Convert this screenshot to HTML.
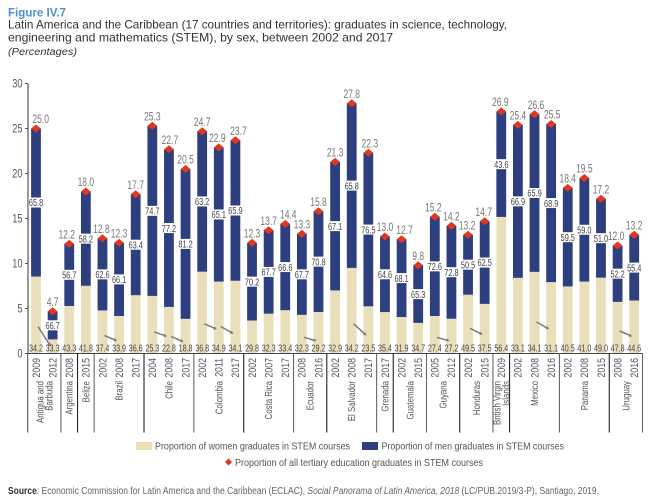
<!DOCTYPE html>
<html lang="en">
<head>
<meta charset="utf-8">
<title>Figure IV.7</title>
<style>
html,body{margin:0;padding:0;background:#fff;width:661px;height:502px;overflow:hidden}
svg{display:block;font-family:"Liberation Sans",sans-serif}
</style>
</head>
<body>
<svg id="chart" width="661" height="502" viewBox="0 0 661 502" xmlns="http://www.w3.org/2000/svg">
  <text x="8" y="16.5" font-size="11.5" font-weight="bold" fill="#4a90d0" textLength="58" lengthAdjust="spacingAndGlyphs">Figure IV.7</text>
  <text x="8" y="28.5" font-size="12" fill="#333" textLength="499" lengthAdjust="spacingAndGlyphs">Latin America and the Caribbean (17 countries and territories): graduates in science, technology,</text>
  <text x="8" y="41.5" font-size="12" fill="#333" textLength="385" lengthAdjust="spacingAndGlyphs">engineering and mathematics (STEM), by sex, between 2002 and 2017</text>
  <text x="8" y="55" font-size="10" font-style="italic" fill="#333" textLength="69" lengthAdjust="spacingAndGlyphs">(Percentages)</text>
  <g id="plot"></g>
  <g>
    <rect x="136" y="442" width="16" height="8" fill="#e9e0bb"/>
    <text x="155" y="449.5" font-size="10.5" fill="#555" textLength="195" lengthAdjust="spacingAndGlyphs">Proportion of women graduates in STEM courses</text>
    <rect x="362" y="442" width="16" height="8" fill="#2e3f80"/>
    <text x="381.5" y="449.5" font-size="10.5" fill="#555" textLength="182.5" lengthAdjust="spacingAndGlyphs">Proportion of men graduates in STEM courses</text>
    <polygon points="228.5,458.5 232,462 228.5,465.5 225,462" fill="#e2371f"/>
    <text x="235" y="466" font-size="10.5" fill="#555" textLength="248" lengthAdjust="spacingAndGlyphs">Proportion of all tertiary education graduates in STEM courses</text>
  </g>
  <text x="8" y="494" font-size="10" fill="#666" textLength="591" lengthAdjust="spacingAndGlyphs"><tspan font-weight="bold" fill="#333">Source</tspan>: Economic Commission for Latin America and the Caribbean (ECLAC), <tspan font-style="italic">Social Panorama of Latin America, 2018</tspan> (LC/PUB.2019/3-P), Santiago, 2019.</text>
</svg>
<script>
const groupNames = [["Antigua and","Barbuda"],["Argentina"],["Belize"],["Brazil"],["Chile"],["Colombia"],["Costa Rica"],["Ecuador"],["El Salvador"],["Grenada"],["Guatemala"],["Guyana"],["Honduras"],["British Virgin","Islands"],["Mexico"],["Panama"],["Uruguay"]];
const groupSizes = [2,1,1,3,3,3,3,2,3,1,2,2,2,1,3,3,2];
const years = [2009,2012,2008,2015,2002,2008,2017,2004,2008,2017,2002,2011,2017,2002,2007,2017,2008,2016,2002,2008,2017,2017,2002,2015,2005,2012,2002,2015,2009,2002,2008,2016,2002,2008,2015,2008,2016];
const totalShare = [25.0,4.7,12.2,18.0,12.8,12.3,17.7,25.3,22.7,20.5,24.7,22.9,23.7,12.3,13.7,14.4,13.3,15.8,21.3,27.8,22.3,13.0,12.7,9.8,15.2,14.2,13.2,14.7,26.9,25.4,26.6,25.5,18.4,19.5,17.2,12.0,13.2];
const womenShare = [34.2,33.3,43.3,41.8,37.4,33.9,36.6,25.3,22.8,18.8,36.8,34.9,34.1,29.8,32.3,33.4,32.3,29.2,32.9,34.2,23.5,35.4,31.9,34.7,27.4,27.2,49.5,37.5,56.4,33.1,34.1,31.1,40.5,41.0,49.0,47.8,44.6];
const menShare = [65.8,66.7,56.7,58.2,62.6,66.1,63.4,74.7,77.2,81.2,63.2,65.1,65.9,70.2,67.7,66.6,67.7,70.8,67.1,65.8,76.5,64.6,68.1,65.3,72.6,72.8,50.5,62.5,43.6,66.9,65.9,68.9,59.5,59.0,51.0,52.2,55.4];
const yTicks = [0,5,10,15,20,25,30];
const trendFromBar = [0,4,7,8,10,11,16,19,24,26,30,35];
const trendStart = [3,2,2.4,1.9,3.3,3,1.8,3.3,1.8,2.8,3.5,2.5];
const trendEnd = [0.8,1.4,1.9,1.3,2.7,2.2,1.4,2,1.4,2.1,2.7,1.9];

const NS = "http://www.w3.org/2000/svg";
const plot = document.getElementById("plot");
const x = i => 36 + i * 16.617;
const y = v => 353.5 - v * 9;
const barW = 9.8;
// manual label placement shifts, by bar index, to avoid collisions with neighbours
const totalLabelShift = {0:4.7,2:-2.5,4:-1,8:1,11:-1.5,12:3,15:3,20:1.5,22:3,24:-1.5,26:-1,27:-1,28:-1,30:1.5,31:1,35:-1.5};

function mk(tag, attrs, parent) {
  const el = document.createElementNS(NS, tag);
  for (const k in attrs) el.setAttribute(k, attrs[k]);
  (parent || plot).appendChild(el);
  return el;
}
function label(str, px, py, size, sx, fill, anchor) {
  const t = mk("text", {transform: "translate(" + px + "," + py + ") scale(" + sx + ",1)", "font-size": size, fill: fill, "text-anchor": anchor || "middle"});
  t.textContent = str;
  return t;
}

// y axis
const yAxis = mk("line", {x1: 28, x2: 28, y1: y(30), y2: y(0), stroke: "#555", "stroke-width": 1.2});


yTicks.forEach(v => {
  const tick = mk("line", {x1: 25, x2: 28, y1: y(v), y2: y(v), stroke: "#555", "stroke-width": 1});
  
  
  const tl = label(String(v), 22.5, y(v) + 4, 11.5, 0.8, "#555", "end");
  
  
});

// bars
totalShare.forEach((total, i) => {
  const womenH = total * womenShare[i] / 100;
  const women = mk("rect", {x: x(i) - barW / 2, width: barW, y: y(womenH), height: y(0) - y(womenH), fill: "#e9e0bb"});
  
  
  const men = mk("rect", {x: x(i) - barW / 2, width: barW, y: y(total), height: y(womenH) - y(total), fill: "#2e3f80"});
  
  
});

// trend arrows
trendFromBar.forEach((b, i) => {
  const x1 = x(b) + 2, x2 = x(b + 1) - 2, y1 = y(trendStart[i]), y2 = y(trendEnd[i]);
  const len = Math.hypot(x2 - x1, y2 - y1), ux = (x2 - x1) / len, uy = (y2 - y1) / len;
  const arrow = mk("line", {x1: x1, y1: y1, x2: x2 - ux * 2, y2: y2 - uy * 2, stroke: "#7b7b7b", "stroke-width": 1.5});
  
  
  const bx = x2 - ux * 3, by = y2 - uy * 3;
  const head = mk("polygon", {points: [[x2, y2], [bx - uy * 1.8, by + ux * 1.8], [bx + uy * 1.8, by - ux * 1.8]].map(p => p.join(",")).join(" "), fill: "#7b7b7b"});
  
  
});

// x axis and group dividers
const xAxis = mk("line", {x1: 25, x2: 642.5, y1: y(0), y2: y(0), stroke: "#444", "stroke-width": 1});


let start = 0;
groupNames.forEach((lines, g) => {
  const n = groupSizes[g];
  const left = x(start) - 8.3, right = x(start + n - 1) + 8.3;
  if (g === 0) {
    const first = mk("line", {x1: left, x2: left, y1: y(0), y2: 432.5, stroke: "#555", "stroke-width": 1.1});
    
    
  }
  const div = mk("line", {x1: right, x2: right, y1: y(0), y2: 432.5, stroke: g % 2 ? "#222" : "#666", "stroke-width": 1.1});
  
  
  const cx = (left + right) / 2;
  lines.forEach((line, k) => {
    const off = lines.length > 1 ? (k === 0 ? -4.5 : 4.5) : 0;
    const t = mk("text", {transform: "translate(" + (cx + off + 3.5) + ",381) rotate(-90) scale(0.75,1)", "font-size": 10.5, fill: "#555", "text-anchor": "end"});
    t.textContent = line;
    
    
  });
  start += n;
});

// year labels and value labels
totalShare.forEach((total, i) => {
  const yr = mk("text", {transform: "translate(" + (x(i) + 3.8) + ",358) rotate(-90) scale(0.8,1)", "font-size": 11, fill: "#555", "text-anchor": "end"});
  yr.textContent = years[i];
  
  

  const womenH = total * womenShare[i] / 100;
  const mid = (womenH + total) / 2;
  const box = mk("rect", {x: x(i) - 7.5, width: 15, y: y(mid) - 5, height: 10, fill: "#fff"});
  
  
  const menText = label(menShare[i].toFixed(1), x(i), y(mid) + 3.7, 10.5, 0.7, "#444");
  
  

  const womenText = label(womenShare[i].toFixed(1), x(i), 351.5, 10.5, 0.68, "#444");
  
  

  const d = mk("polygon", {points: [[x(i), y(total) - 4], [x(i) + 4.8, y(total)], [x(i), y(total) + 4], [x(i) - 4.8, y(total)]].map(p => p.join(",")).join(" "), fill: "#e2371f"});
  
  

  const totalText = label(total.toFixed(1), x(i) + (totalLabelShift[i] || 0), y(total) - 5.3, 11.5, 0.74, "#777");
  
  
});
</script>
</body>
</html>
